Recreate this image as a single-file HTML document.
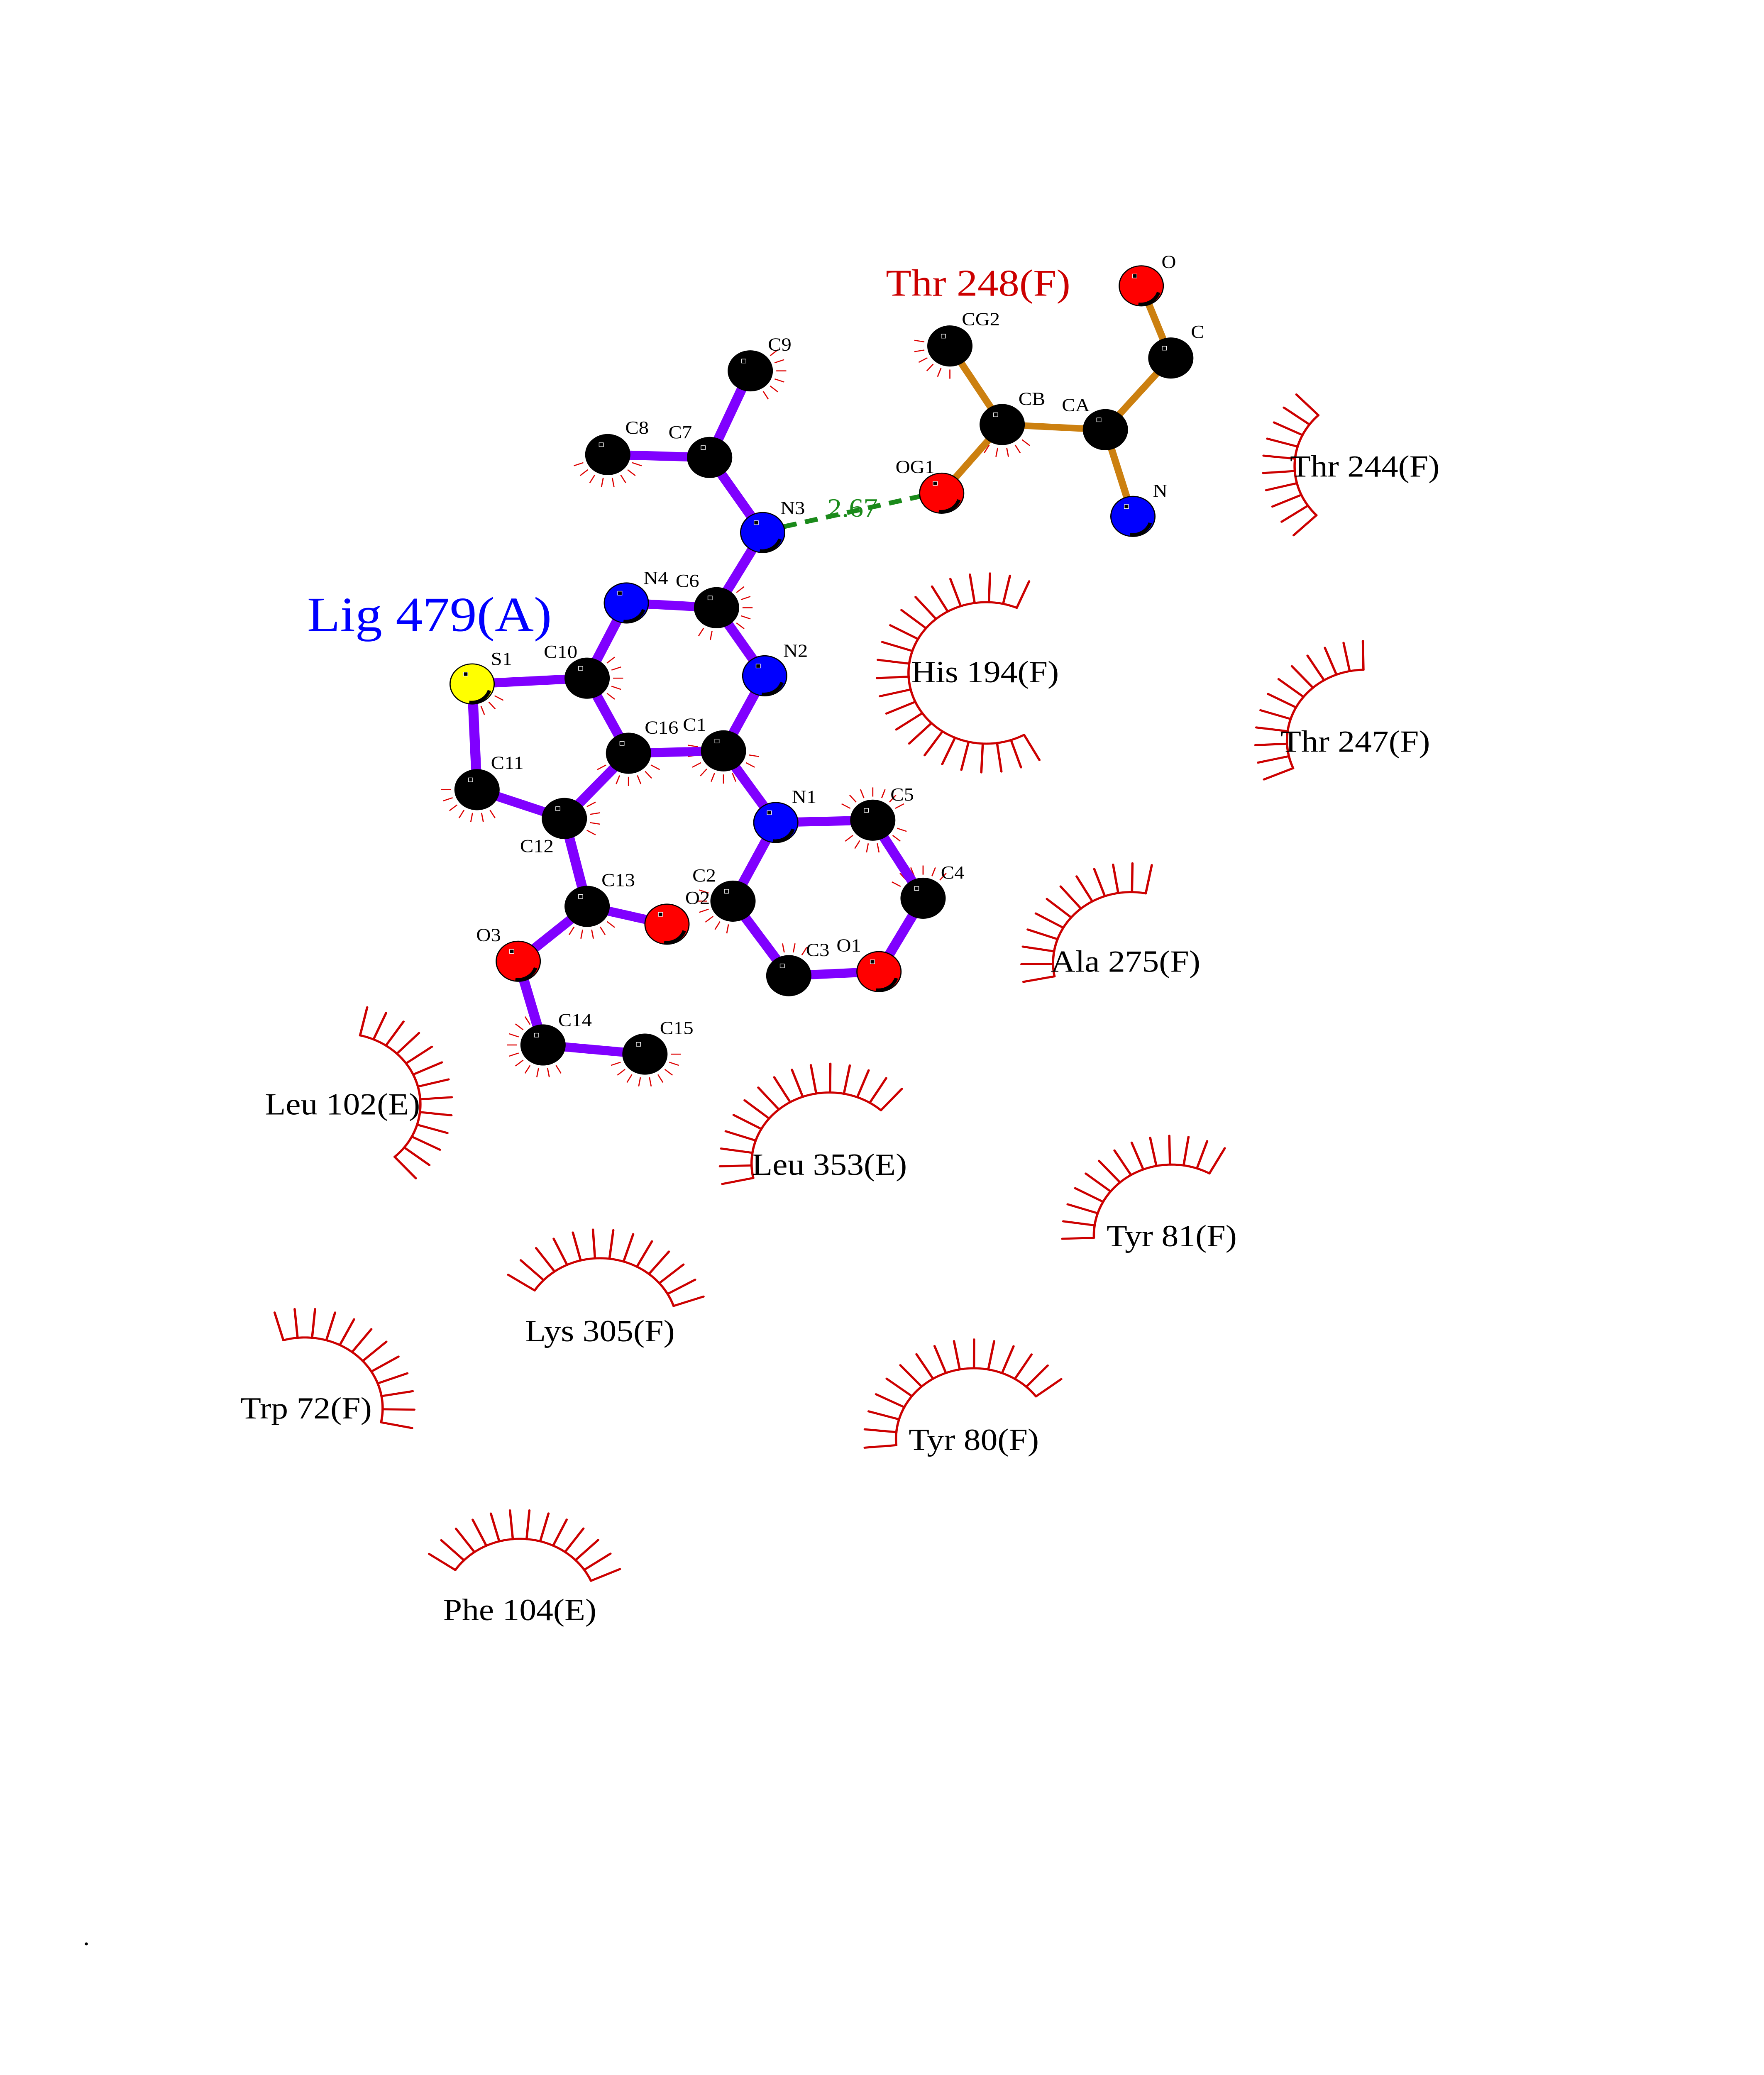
<!DOCTYPE html>
<html><head><meta charset="utf-8"><style>
html,body{margin:0;padding:0;background:#fff;width:100vw;height:100vh;overflow:hidden;}
svg{display:block;position:absolute;left:0;top:0;width:100vw;height:100vh;}
text{font-family:"Liberation Serif",serif;}
</style></head><body>
<svg id="s" xmlns="http://www.w3.org/2000/svg" viewBox="0 0 1224 1584" preserveAspectRatio="none">
<rect width="1224" height="1584" fill="#fff"/>
<g id="arcs" fill="none" stroke="#cc0000" stroke-width="1.6" stroke-linecap="round"></g>
<g id="ticks" stroke="#dd0000" stroke-width="0.8"></g>
<g id="bonds" stroke-linecap="round"></g>
<line x1="544" y1="402" x2="638" y2="379" stroke="#1a8a1a" stroke-width="3.6" stroke-dasharray="9,6"/>
<g id="atoms" stroke="#000" stroke-width="0.8"></g>
<g id="labels" font-size="14" fill="#000" text-anchor="middle" dominant-baseline="central"></g>
<text x="591.6" y="388" font-size="20" fill="#1a8a1a" text-anchor="middle" dominant-baseline="central">2.67</text>
<text x="678.7" y="216" font-size="29" fill="#cc0000" text-anchor="middle" dominant-baseline="central">Thr 248(F)</text>
<text x="298" y="469" font-size="37.5" fill="#0000ff" text-anchor="middle" dominant-baseline="central">Lig 479(A)</text>
<g font-size="23.5" fill="#000" text-anchor="middle" dominant-baseline="central">
<text x="683.5" y="513">His 194(F)</text>
<text x="947" y="356">Thr 244(F)</text>
<text x="940.4" y="566">Thr 247(F)</text>
<text x="781" y="734">Ala 275(F)</text>
<text x="237.7" y="843">Leu 102(E)</text>
<text x="575.5" y="889">Leu 353(E)</text>
<text x="813" y="943.5">Tyr 81(F)</text>
<text x="416.3" y="1016">Lys 305(F)</text>
<text x="212.4" y="1075">Trp 72(F)</text>
<text x="675.7" y="1099">Tyr 80(F)</text>
<text x="360.7" y="1229">Phe 104(E)</text>
</g>
<circle cx="59.9" cy="1483.9" r="1.1" fill="#000"/>
</svg>
<script>
var NS="http://www.w3.org/2000/svg";
function el(p,t,a){var e=document.createElementNS(NS,t);for(var k in a)e.setAttribute(k,a[k]);p.appendChild(e);return e;}
var A={C9:[520.6,283.1,'k'],C8:[421.7,347.0,'k'],C7:[492.4,349.2,'k'],N3:[529.2,406.5,'b'],N4:[434.6,460.3,'b'],C6:[497.2,463.9,'k'],
S1:[327.6,522.1,'y'],C10:[407.4,517.7,'k'],N2:[530.6,515.9,'b'],C16:[436.1,575.0,'k'],C1:[502.0,573.2,'k'],C11:[331.0,602.8,'k'],
C12:[391.6,624.8,'k'],N1:[538.3,627.9,'b'],C5:[605.6,626.1,'k'],C13:[407.4,691.9,'k'],O2:[462.8,705.5,'r'],C2:[508.6,687.9,'k'],
C4:[640.5,685.7,'k'],O3:[359.6,733.8,'r'],C3:[547.3,744.8,'k'],O1:[609.9,741.7,'r'],C14:[376.8,797.7,'k'],C15:[447.5,804.7,'k'],
tO:[791.9,218.2,'r'],tC:[812.4,273.3,'k'],tCG2:[659.1,264.1,'k'],tCB:[695.4,324.1,'k'],tCA:[767.0,328.0,'k'],tOG1:[653.4,376.5,'r'],tN:[786.1,394.2,'b']};
var col={k:'#000',b:'#0000ff',r:'#ff0000',y:'#ffff00'};
var lig=[['C9','C7'],['C8','C7'],['C7','N3'],['N3','C6'],['C6','N4'],['C6','N2'],['N4','C10'],['C10','S1'],['S1','C11'],['C11','C12'],['C12','C16'],['C16','C10'],['C16','C1'],['C1','N2'],['C1','N1'],['N1','C5'],['C5','C4'],['C4','O1'],['O1','C3'],['C3','C2'],['C2','N1'],['C12','C13'],['C13','O2'],['C13','O3'],['O3','C14'],['C14','C15']];
var thr=[['tO','tC'],['tC','tCA'],['tCA','tCB'],['tCB','tCG2'],['tCB','tOG1'],['tCA','tN']];
var gb=document.getElementById('bonds');
lig.forEach(function(b){var p=A[b[0]],q=A[b[1]];el(gb,'line',{x1:p[0],y1:p[1],x2:q[0],y2:q[1],stroke:'#8000ff','stroke-width':7});});
thr.forEach(function(b){var p=A[b[0]],q=A[b[1]];el(gb,'line',{x1:p[0],y1:p[1],x2:q[0],y2:q[1],stroke:'#cc8010','stroke-width':5});});
var ga=document.getElementById('atoms');
for(var k in A){var a=A[k];el(ga,'circle',{cx:a[0],cy:a[1],r:15.3,fill:col[a[2]]});
 if(a[2]!='k'){el(ga,'path',{d:'M'+(a[0]+12)+','+(a[1]+5)+' A13,13 0 0 1 '+(a[0]-2)+','+(a[1]+14),fill:'none',stroke:'#000','stroke-width':2.5});}
 el(ga,'rect',{x:a[0]-6,y:a[1]-9,width:3,height:3,fill:'#000',stroke:'#fff','stroke-width':0.4});}
var L=[['C9',541,263.2],['C8',442,326.7],['C7',472,330.2],['N3',550,388],['N4',455,441.4],['C6',477,443.6],['S1',348,503.1],['C10',389,497.8],['N2',552,497],['C16',459,555.6],['C1',482,553.4],['C11',352,582.5],['C12',372.5,646],['N1',558,608.5],['C5',626,606.7],['C13',429,672],['C2',488.6,668.5],['O2',484,685.7],['C4',661,666.3],['O3',339,713.9],['C3',567.4,725.4],['O1',589,721.9],['C14',399,779],['C15',469.5,784.9],['O',811,200.1],['C',831,253.5],['CG2',680.6,243.8],['CB',716,304.7],['CA',746.5,309.5],['OG1',635,356.7],['N',805,374.8]];
var gl=document.getElementById('labels');
L.forEach(function(l){var t=el(gl,'text',{x:l[1],y:l[2]});t.textContent=l[0];});
var R=[[684.4,513.7,61,293],[952.3,355.8,136,226],[947,565.3,157,269],[784.7,735,169,281],[237.7,843,-77,48],[575.5,888,168,311.5],[813,943,178,299],[416.3,1014.5,213,341],[211.5,1075,-106,11.5],[675.7,1098.5,175,323],[360.7,1228.7,214,336]];
var garc=document.getElementById('arcs');var r=54,sl=22;
R.forEach(function(c){var d='';for(var t=c[2];t<=c[3]+0.01;t+=1){var rad=t*Math.PI/180;d+=(d?'L':'M')+(c[0]+r*Math.cos(rad)).toFixed(2)+','+(c[1]+r*Math.sin(rad)).toFixed(2);}
 el(garc,'path',{d:d});
 var span=c[3]-c[2],n=Math.round(span/10.5),st=span/n;
 for(var i=0;i<=n;i++){var rad=(c[2]+i*st)*Math.PI/180,cs=Math.cos(rad),sn=Math.sin(rad);
  el(garc,'line',{x1:c[0]+r*cs,y1:c[1]+r*sn,x2:c[0]+(r+sl)*cs,y2:c[1]+(r+sl)*sn});}});
var T=[['C9',-40,60],['C8',20,160],['C6',-40,60],['C6',100,125],['C10',-40,60],['S1',30,80],['C16',30,150],['C1',10,200],['C11',60,180],['C12',-30,40],['C5',-150,-20],['C5',20,140],['C4',-150,-50],['C13',40,140],['C2',100,200],['C3',-120,-60],['C14',60,250],['C15',0,160],['tCG2',90,200],['tCB',40,130]];
var gt=document.getElementById('ticks');
T.forEach(function(t){var a=A[t[0]];for(var g=t[1];g<=t[2];g+=20){var rad=g*Math.PI/180,cs=Math.cos(rad),sn=Math.sin(rad);
 el(gt,'line',{x1:a[0]+18*cs,y1:a[1]+18*sn,x2:a[0]+25*cs,y2:a[1]+25*sn});}});
</script>
</body></html>
